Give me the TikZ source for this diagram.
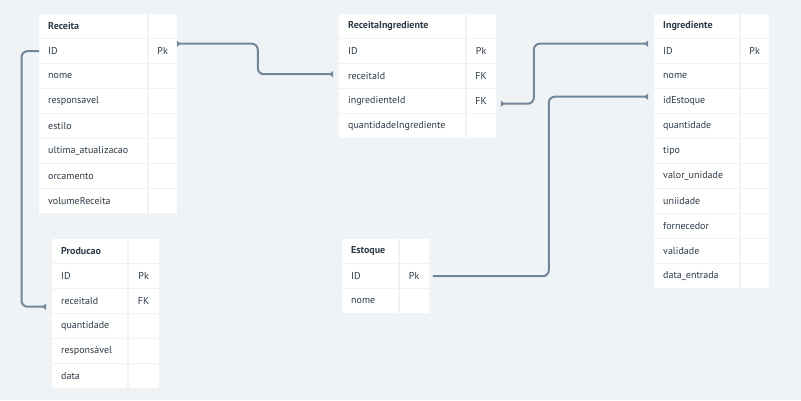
\documentclass[tikz,border=0pt]{standalone}
\usepackage{fontspec}
\setmainfont{PT Sans}
\usetikzlibrary{positioning, arrows.meta}

\definecolor{canvas}{HTML}{EFF3F6}
\definecolor{ink}{HTML}{2D3A48}
\definecolor{wirecol}{HTML}{738599}

\tikzstyle{namecell} = [rectangle, fill = white, anchor = north west, minimum height = 24pt, inner xsep = 9pt, inner ysep = 0pt, align = left, text = ink, font = \fontsize{10}{11}\selectfont]
\tikzstyle{keycell} = [rectangle, fill = white, minimum height = 24pt, inner sep = 0pt, text = ink, font = \fontsize{10}{11}\selectfont]
\tikzstyle{wire} = [draw = wirecol, line width = 2pt, rounded corners = 6pt]

\begin{document}
\begin{tikzpicture}[x = 1pt, y = -1pt, >={Triangle[reversed, width = 6pt, length = 4pt]}]
			\fill[canvas] (0,0) rectangle (801,400);
			% tables: one name cell and one key cell per row
			\foreach \field/\key [count = \i] in {{\bfseries Receita}/{}, ID/Pk, nome/{}, responsavel/{}, estilo/{}, ultima\_atualizacao/{}, orcamento/{}, volumeReceita/{}} {
				\node[namecell, text width = 90pt] (rec\i) at (39, {14 + 25*(\i - 1)}) {\mbox{\field}};
				\node[keycell, minimum width = 28pt, right = 1pt of rec\i] (reck\i) {\key};
			}
			\foreach \field/\key [count = \i] in {{\bfseries ReceitaIngrediente}/{}, ID/Pk, receitaId/FK, ingredienteId/FK, quantidadeIngrediente/{}} {
				\node[namecell, text width = 108pt] (ri\i) at (339, {14 + 25*(\i - 1)}) {\mbox{\field}};
				\node[keycell, minimum width = 29pt, right = 1pt of ri\i] (rik\i) {\key};
			}
			\foreach \field/\key [count = \i] in {{\bfseries Ingrediente}/{}, ID/Pk, nome/{}, idEstoque/{}, quantidade/{}, tipo/{}, valor\_unidade/{}, uniidade/{}, fornecedor/{}, validade/{}, data\_entrada/{}} {
				\node[namecell, text width = 67pt] (ing\i) at (654, {14 + 25*(\i - 1)}) {\mbox{\field}};
				\node[keycell, minimum width = 28pt, right = 1pt of ing\i] (ingk\i) {\key};
			}
			\foreach \field/\key [count = \i] in {{\bfseries Producao}/{}, ID/Pk, receitaId/FK, quantidade/{}, responsável/{}, data/{}} {
				\node[namecell, text width = 57pt] (prod\i) at (52, {239 + 25*(\i - 1)}) {\mbox{\field}};
				\node[keycell, minimum width = 30pt, right = 1pt of prod\i] (prodk\i) {\key};
			}
			\foreach \field/\key [count = \i] in {{\bfseries Estoque}/{}, ID/Pk, nome/{}} {
				\node[namecell, text width = 38pt] (est\i) at (342, {239 + 25*(\i - 1)}) {\mbox{\field}};
				\node[keycell, minimum width = 29pt, right = 1pt of est\i] (estk\i) {\key};
			}
			% relations
			\draw[wire, <->, shorten > = 6pt] ([yshift = 7.5pt]reck2.east) -- ++(81pt, 0) |- ([yshift = 2pt]ri3.west);
			\draw[wire, <->, shorten < = 5pt, shorten > = 6pt] ([yshift = -2.5pt]rik4.east) -- ++(38pt, 0) |- ([yshift = 7.5pt]ing2.west);
			\draw[wire, ->, shorten < = 4pt, shorten > = 6pt] (estk2.east) -- ++(120pt, 0) |- ([yshift = 4.5pt]ing4.west);
			\draw[wire, ->, shorten > = 6pt] (rec2.west) -- ++(-17.5pt, 0) |- ([yshift = -5.5pt]prod3.west);
		\end{tikzpicture}
\end{document}
